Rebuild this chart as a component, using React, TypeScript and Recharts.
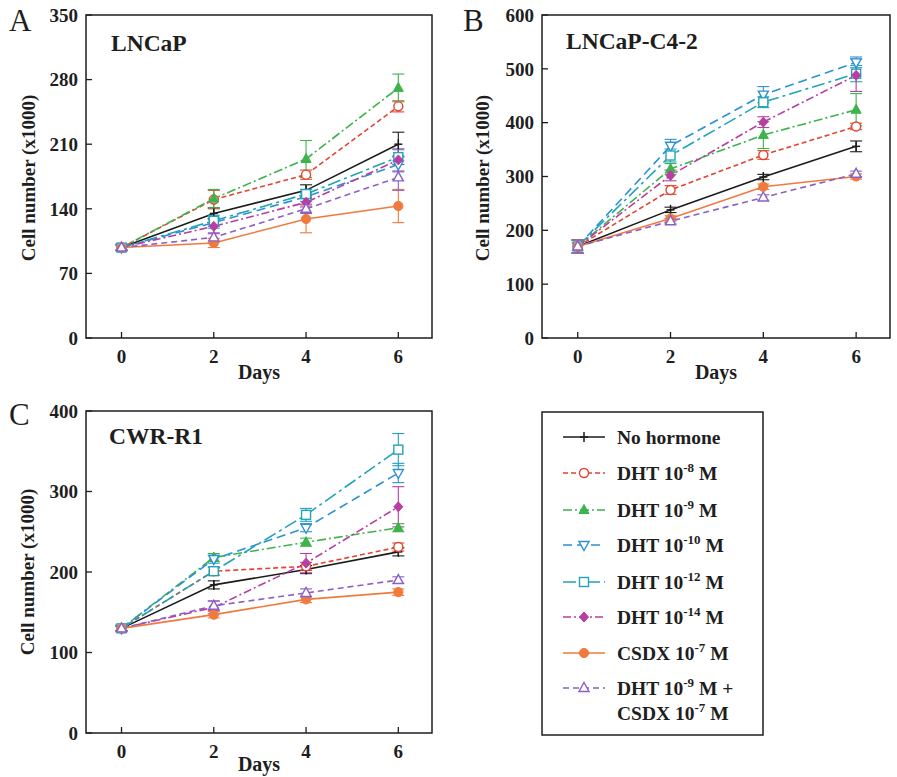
import React from "react";
import {
  LineChart,
  Line,
  XAxis,
  YAxis,
  ErrorBar,
  ReferenceArea,
} from "recharts";

const DAYS = [0, 2, 4, 6];

// LNCaP (panel A)
const lncapMeans: Record<string, number[]> = {
  none: [98, 135, 160, 210],
  dht8: [98, 150, 177, 251],
  dht9: [98, 151, 194, 271],
  dht10: [98, 125, 153, 188],
  dht12: [98, 127, 156, 196],
  dht14: [98, 121, 147, 193],
  csdx: [98, 103, 129, 143],
  combo: [98, 109, 140, 174],
};
const lncapErrors: Record<string, number[]> = {
  none: [3, 6, 6, 13],
  dht8: [3, 10, 5, 6],
  dht9: [3, 10, 20, 15],
  dht10: [3, 6, 5, 8],
  dht12: [3, 6, 5, 8],
  dht14: [3, 8, 5, 12],
  csdx: [3, 5, 15, 18],
  combo: [3, 5, 5, 14],
};

// LNCaP-C4-2 (panel B)
const c42Means: Record<string, number[]> = {
  none: [170, 238, 299, 356],
  dht8: [170, 275, 340, 393],
  dht9: [170, 314, 377, 424],
  dht10: [170, 357, 452, 512],
  dht12: [170, 339, 438, 491],
  dht14: [170, 302, 401, 488],
  csdx: [170, 222, 281, 300],
  combo: [170, 217, 261, 305],
};
const c42Errors: Record<string, number[]> = {
  none: [12, 5, 5, 10],
  dht8: [12, 8, 8, 6],
  dht9: [12, 10, 25, 30],
  dht10: [12, 12, 15, 10],
  dht12: [12, 12, 10, 15],
  dht14: [12, 10, 10, 30],
  csdx: [12, 5, 5, 5],
  combo: [12, 5, 5, 5],
};

// CWR-R1 (panel C)
const cwrMeans: Record<string, number[]> = {
  none: [130, 184, 203, 225],
  dht8: [130, 201, 207, 231],
  dht9: [130, 218, 237, 255],
  dht10: [130, 216, 255, 323],
  dht12: [130, 201, 271, 352],
  dht14: [130, 156, 211, 281],
  csdx: [130, 147, 166, 175],
  combo: [130, 158, 174, 190],
};
const cwrErrors: Record<string, number[]> = {
  none: [3, 5, 5, 5],
  dht8: [3, 5, 5, 5],
  dht9: [3, 5, 5, 5],
  dht10: [3, 5, 5, 12],
  dht12: [3, 5, 8, 20],
  dht14: [3, 8, 12, 25],
  csdx: [3, 4, 4, 4],
  combo: [3, 6, 5, 4],
};

const SERIES = [
  { key: "none", label: ["No hormone"], color: "#1b1b1b", dash: undefined, marker: "plus" },
  { key: "dht8", label: ["DHT 10^-8 M"], color: "#e4432f", dash: "5 3", marker: "circleOpen" },
  { key: "dht9", label: ["DHT 10^-9 M"], color: "#3db34b", dash: "9 3 2 3", marker: "triUp" },
  { key: "dht10", label: ["DHT 10^-10 M"], color: "#2b90d6", dash: "9 5", marker: "triDownOpen" },
  { key: "dht12", label: ["DHT 10^-12 M"], color: "#22a4b8", dash: "13 4 3 4", marker: "squareOpen" },
  { key: "dht14", label: ["DHT 10^-14 M"], color: "#b83ea3", dash: "8 3 2 3", marker: "diamond" },
  { key: "csdx", label: ["CSDX 10^-7 M"], color: "#f07a3e", dash: undefined, marker: "circle" },
  { key: "combo", label: ["DHT 10^-9 M +", "CSDX 10^-7 M"], color: "#8b5fc6", dash: "6 4", marker: "triUpOpen" },
];

const FONT = '"Liberation Serif", "Times New Roman", serif';
const INK = "#1e1e1e";
const X_DOMAIN: [number, number] = [-0.77, 6.73];

const buildRows = (means: Record<string, number[]>, errors: Record<string, number[]>) =>
  DAYS.map((day, i) => {
    const row: Record<string, number> = { day };
    SERIES.forEach((s) => {
      row[s.key] = means[s.key][i];
      row[`${s.key}_err`] = errors[s.key][i];
    });
    return row;
  });

const Marker = ({ shape, x, y, color }: { shape: string; x: number; y: number; color: string }) => {
  const sw = 1.4;
  switch (shape) {
    case "plus":
      return (
        <g stroke={color} strokeWidth={1.5}>
          <line x1={x - 4} x2={x + 4} y1={y} y2={y} />
          <line x1={x} x2={x} y1={y - 5} y2={y + 5} />
        </g>
      );
    case "circleOpen":
      return <circle cx={x} cy={y} r={4.5} fill="#fff" stroke={color} strokeWidth={sw} />;
    case "circle":
      return <circle cx={x} cy={y} r={4.6} fill={color} stroke={color} strokeWidth={1} />;
    case "triUp":
      return (
        <polygon
          points={`${x},${y - 5.5} ${x + 5},${y + 3.5} ${x - 5},${y + 3.5}`}
          fill={color}
          stroke={color}
          strokeWidth={1}
        />
      );
    case "triUpOpen":
      return (
        <polygon
          points={`${x},${y - 5.5} ${x + 5},${y + 3.5} ${x - 5},${y + 3.5}`}
          fill="#fff"
          stroke={color}
          strokeWidth={sw}
        />
      );
    case "triDownOpen":
      return (
        <polygon
          points={`${x},${y + 5.5} ${x + 5},${y - 3.5} ${x - 5},${y - 3.5}`}
          fill="#fff"
          stroke={color}
          strokeWidth={sw}
        />
      );
    case "squareOpen":
      return <rect x={x - 4.5} y={y - 4.5} width={9} height={9} fill="#fff" stroke={color} strokeWidth={sw} />;
    case "diamond":
      return (
        <polygon
          points={`${x},${y - 5} ${x + 4.5},${y} ${x},${y + 5} ${x - 4.5},${y}`}
          fill={color}
          stroke={color}
          strokeWidth={1}
        />
      );
    default:
      return null;
  }
};

interface PanelProps {
  left: number;
  top: number;
  width: number;
  height: number;
  rightMargin: number;
  xAxisHeight: number;
  tickGap: number;
  means: Record<string, number[]>;
  errors: Record<string, number[]>;
  yMax: number;
  yTicks: number[];
}

const tickStyle = { fontSize: 19, fontWeight: 700, fontFamily: FONT, fill: INK };

const Panel = (p: PanelProps) => {
  const rows = buildRows(p.means, p.errors);
  return (
    <div style={{ position: "absolute", left: p.left, top: p.top }}>
      <LineChart
        width={p.width}
        height={p.height}
        data={rows}
        margin={{ top: 15, right: p.rightMargin, bottom: 0, left: 0 }}
      >
        <ReferenceArea
          x1={X_DOMAIN[0]}
          x2={X_DOMAIN[1]}
          y1={0}
          y2={p.yMax}
          fill="none"
          stroke={INK}
          strokeWidth={1.5}
        />
        <XAxis
          dataKey="day"
          type="number"
          domain={X_DOMAIN}
          ticks={DAYS}
          height={p.xAxisHeight}
          axisLine={false}
          tickSize={-6}
          tickMargin={p.tickGap}
          tickLine={{ stroke: INK, strokeWidth: 1.3 }}
          tick={tickStyle}
        />
        <YAxis
          type="number"
          domain={[0, p.yMax]}
          ticks={p.yTicks}
          width={86}
          axisLine={false}
          tickSize={-6}
          tickMargin={14}
          tickLine={{ stroke: INK, strokeWidth: 1.3 }}
          tick={tickStyle}
        />
        {SERIES.map((s) => (
          <Line
            key={s.key}
            dataKey={s.key}
            stroke={s.color}
            strokeWidth={1.6}
            strokeDasharray={s.dash}
            isAnimationActive={false}
            dot={(d: any) =>
              d.cx == null ? (
                <g key={`${s.key}-${d.index}`} />
              ) : (
                <Marker key={`${s.key}-${d.index}`} shape={s.marker} x={d.cx} y={d.cy} color={s.color} />
              )
            }
            activeDot={false}
          >
            <ErrorBar dataKey={`${s.key}_err`} width={6} strokeWidth={1.1} stroke={s.color} direction="y" />
          </Line>
        ))}
      </LineChart>
    </div>
  );
};

const SupText = ({ text }: { text: string }) => {
  const parts = text.split(/(\^-?\d+)/).filter((t) => t !== "");
  let raised = false;
  return (
    <>
      {parts.map((t, i) => {
        if (t.startsWith("^")) {
          raised = true;
          return (
            <tspan key={i} dy={-8} fontSize={13}>
              {t.slice(1)}
            </tspan>
          );
        }
        const dy = raised ? 8 : 0;
        raised = false;
        return (
          <tspan key={i} dy={dy}>
            {t}
          </tspan>
        );
      })}
    </>
  );
};

const LegendBox = () => {
  const rowsY = [437, 473, 510, 545, 582, 617, 653, 688];
  return (
    <g>
      <rect x={542} y={412} width={221} height={323} fill="#fff" stroke={INK} strokeWidth={1.5} />
      {SERIES.map((s, i) => {
        const y = rowsY[i];
        return (
          <g key={s.key}>
            <line x1={563} x2={605} y1={y} y2={y} stroke={s.color} strokeWidth={1.6} strokeDasharray={s.dash} />
            <Marker shape={s.marker} x={584} y={y} color={s.color} />
            {s.label.map((l, j) => (
              <text
                key={j}
                x={617}
                y={y + 7 + j * 25}
                fontFamily={FONT}
                fontWeight={700}
                fontSize={19.5}
                fill={INK}
              >
                <SupText text={l} />
              </text>
            ))}
          </g>
        );
      })}
    </g>
  );
};

const Overlay = () => {
  const letter = { fontFamily: FONT, fontSize: 31, fill: INK };
  const title = { fontFamily: FONT, fontSize: 23.5, fontWeight: 700, fill: INK };
  const axisLabel = { fontFamily: FONT, fontSize: 19, fontWeight: 700, fill: INK };
  const yLabel = (x: number, y: number) => (
    <text
      x={x}
      y={y}
      transform={`rotate(-90 ${x} ${y})`}
      textAnchor="middle"
      dominantBaseline="central"
      {...axisLabel}
    >
      Cell number (x1000)
    </text>
  );
  return (
    <svg
      width={897}
      height={777}
      style={{ position: "absolute", left: 0, top: 0, pointerEvents: "none" }}
    >
      <text x={9} y={31} {...letter}>A</text>
      <text x={463} y={31} {...letter}>B</text>
      <text x={9} y={425} {...letter}>C</text>

      <text x={111} y={51} {...title}>LNCaP</text>
      <text x={566} y={49} {...title}>LNCaP-C4-2</text>
      <text x={109} y={444} {...title}>CWR-R1</text>

      {yLabel(28, 178)}
      {yLabel(482, 178)}
      {yLabel(27, 572)}

      <text x={259} y={379} textAnchor="middle" {...axisLabel} fontSize={20}>Days</text>
      <text x={716} y={379} textAnchor="middle" {...axisLabel} fontSize={20}>Days</text>
      <text x={259} y={771} textAnchor="middle" {...axisLabel} fontSize={20}>Days</text>

      <LegendBox />
    </svg>
  );
};

export default function App() {
  return (
    <div
      style={{
        position: "absolute",
        left: 0,
        top: 0,
        width: 897,
        height: 777,
        background: "#fff",
        overflow: "hidden",
      }}
    >
      <Panel
        left={0}
        top={0}
        width={440}
        height={390}
        rightMargin={8}
        xAxisHeight={52}
        tickGap={18}
        means={lncapMeans}
        errors={lncapErrors}
        yMax={350}
        yTicks={[0, 70, 140, 210, 280, 350]}
      />
      <Panel
        left={456}
        top={0}
        width={441}
        height={390}
        rightMargin={7}
        xAxisHeight={52}
        tickGap={18}
        means={c42Means}
        errors={c42Errors}
        yMax={600}
        yTicks={[0, 100, 200, 300, 400, 500, 600]}
      />
      <Panel
        left={0}
        top={396}
        width={440}
        height={381}
        rightMargin={8}
        xAxisHeight={44}
        tickGap={18}
        means={cwrMeans}
        errors={cwrErrors}
        yMax={400}
        yTicks={[0, 100, 200, 300, 400]}
      />
      <Overlay />
    </div>
  );
}
